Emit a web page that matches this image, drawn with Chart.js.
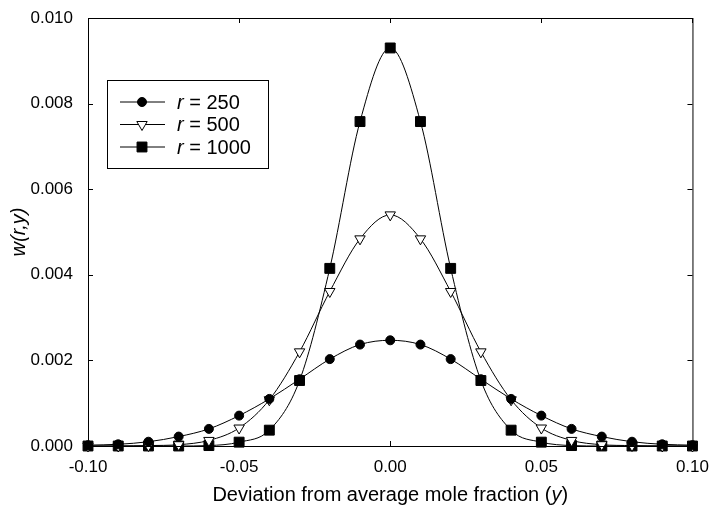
<!DOCTYPE html>
<html>
<head>
<meta charset="utf-8">
<script src="https://cdn.jsdelivr.net/npm/chart.js@4/dist/chart.umd.min.js"></script>
<style>
  html, body { margin: 0; padding: 0; background: #fff; }
  #wrap { width: 712px; height: 509px; }
</style>
</head>
<body>
<div id="wrap"><canvas id="chart" width="712" height="509"></canvas></div>
<script>
// deviation from average mole fraction
const xValues = [-0.10, -0.09, -0.08, -0.07, -0.06, -0.05, -0.04, -0.03, -0.02, -0.01, 0.00,
                 0.01, 0.02, 0.03, 0.04, 0.05, 0.06, 0.07, 0.08, 0.09, 0.10];
const r250 = [0.00002, 0.00004, 0.0001, 0.00022, 0.0004, 0.00071, 0.0011, 0.00156, 0.00203, 0.00237, 0.00247,
              0.00237, 0.00203, 0.00156, 0.0011, 0.00071, 0.0004, 0.00022, 0.0001, 0.00004, 0.00002];
const r500 = [0, 0, 0.00001, 0.00003, 0.00013, 0.00042, 0.00108, 0.0022, 0.00361, 0.00484, 0.0054,
              0.00484, 0.00361, 0.0022, 0.00108, 0.00042, 0.00013, 0.00003, 0.00001, 0, 0];
const r1000 = [0, 0, 0, 0, 0.00001, 0.00009, 0.00037, 0.00153, 0.00415, 0.00758, 0.0093,
               0.00758, 0.00415, 0.00153, 0.00037, 0.00009, 0.00001, 0, 0, 0, 0];
const seriesLabels = ['r = 250', 'r = 500', 'r = 1000'];
const xTickValues = [-0.10, -0.05, 0.00, 0.05, 0.10];
const xTickLabels = ['-0.10', '-0.05', '0.00', '0.05', '0.10'];
const yTickValues = [0, 0.002, 0.004, 0.006, 0.008, 0.010];
const yTickLabels = ['0.000', '0.002', '0.004', '0.006', '0.008', '0.010'];

const FONT = "'Liberation Sans', Arial, sans-serif";

function pts(arr) {
  return xValues.map((x, i) => ({ x: x, y: arr[i] }));
}

function series(label, arr, style, radius, fill, rot) {
  return {
    label: label,
    data: pts(arr),
    borderColor: '#000',
    borderWidth: 1,
    pointStyle: style,
    pointRadius: radius,
    pointRotation: rot || 0,
    pointBackgroundColor: fill,
    pointBorderColor: '#000',
    pointBorderWidth: 1,
    cubicInterpolationMode: 'monotone',
    clip: false
  };
}

// frame + inward ticks on all four sides
const frameTicks = {
  id: 'frameTicks',
  afterDatasetsDraw(chart) {
    const { ctx, chartArea: a, scales } = chart;
    const len = 5;
    ctx.save();
    ctx.strokeStyle = '#000';
    ctx.lineWidth = 1;
    ctx.strokeRect(a.left + 0.5, a.top + 0.5, a.right - a.left, a.bottom - a.top);
    ctx.beginPath();
    xTickValues.forEach(v => {
      const px = Math.round(scales.x.getPixelForValue(v)) + 0.5;
      ctx.moveTo(px, a.bottom); ctx.lineTo(px, a.bottom - len);
      ctx.moveTo(px, a.top); ctx.lineTo(px, a.top + len);
    });
    yTickValues.forEach(v => {
      const py = Math.round(scales.y.getPixelForValue(v)) + 0.5;
      ctx.moveTo(a.left, py); ctx.lineTo(a.left + len, py);
      ctx.moveTo(a.right, py); ctx.lineTo(a.right - len, py);
    });
    ctx.stroke();

    // x axis title with italic y
    const parts = [['Deviation from average mole fraction (', ''], ['y', 'italic '], [')', '']];
    let total = 0;
    parts.forEach(p => { ctx.font = p[1] + '20px ' + FONT; total += ctx.measureText(p[0]).width; });
    let x = (a.left + a.right) / 2 - total / 2;
    ctx.fillStyle = '#000';
    ctx.textBaseline = 'alphabetic';
    ctx.textAlign = 'left';
    parts.forEach(p => {
      ctx.font = p[1] + '20px ' + FONT;
      ctx.fillText(p[0], x, 501);
      x += ctx.measureText(p[0]).width;
    });
    ctx.restore();
  }
};

// boxed legend with line through marker
const boxLegend = {
  id: 'boxLegend',
  afterDraw(chart) {
    const ctx = chart.ctx;
    const bx = 107, by = 80, bw = 161, bh = 88;
    ctx.save();
    ctx.fillStyle = '#fff';
    ctx.fillRect(bx, by, bw, bh);
    ctx.strokeStyle = '#000';
    ctx.lineWidth = 1;
    ctx.strokeRect(bx + 0.5, by + 0.5, bw, bh);
    chart.data.datasets.forEach((ds, i) => {
      const y = by + 22 + i * 22.5;
      ctx.beginPath();
      ctx.moveTo(120, y); ctx.lineTo(165, y);
      ctx.strokeStyle = '#000';
      ctx.lineWidth = 1;
      ctx.stroke();
      ctx.fillStyle = ds.pointBackgroundColor;
      Chart.helpers.drawPoint(ctx, {
        pointStyle: ds.pointStyle, radius: ds.pointRadius,
        rotation: ds.pointRotation, borderWidth: 1
      }, 142, y);
      ctx.fillStyle = '#000';
      ctx.textBaseline = 'middle';
      ctx.textAlign = 'left';
      ctx.font = 'italic 20px ' + FONT;
      const first = ds.label.charAt(0);
      ctx.fillText(first, 177, y + 1);
      const w = ctx.measureText(first).width;
      ctx.font = '20px ' + FONT;
      ctx.fillText(ds.label.slice(1), 177 + w, y + 1);
    });
    ctx.restore();
  }
};

new Chart(document.getElementById('chart'), {
  type: 'line',
  data: {
    datasets: [
      series(seriesLabels[0], r250, 'circle', 4.5, '#000'),
      series(seriesLabels[1], r500, 'triangle', 6, '#fff', 180),
      series(seriesLabels[2], r1000, 'rect', 7, '#000')
    ]
  },
  options: {
    responsive: false,
    animation: false,
    layout: { padding: { top: 18, right: 15, left: 0, bottom: 0 } },
    plugins: { legend: { display: false }, tooltip: { enabled: false } },
    scales: {
      x: {
        type: 'linear',
        min: -0.10, max: 0.10,
        afterFit: s => { s.height = 63; },
        afterBuildTicks: s => { s.ticks = xTickValues.map(v => ({ value: v })); },
        grid: { display: false },
        border: { display: false },
        ticks: {
          padding: 3,
          color: '#000',
          font: { family: FONT, size: 17 },
          maxRotation: 0,
          callback: v => xTickLabels[xTickValues.findIndex(t => Math.abs(t - v) < 1e-9)]
        },
        title: { display: false }
      },
      y: {
        min: 0, max: 0.010,
        afterFit: s => { s.width = 88; },
        afterBuildTicks: s => { s.ticks = yTickValues.map(v => ({ value: v })); },
        grid: { display: false },
        border: { display: false },
        ticks: {
          padding: 7,
          color: '#000',
          font: { family: FONT, size: 17 },
          callback: v => yTickLabels[yTickValues.findIndex(t => Math.abs(t - v) < 1e-9)]
        },
        title: {
          display: true,
          text: 'w(r,y)',
          color: '#000',
          font: { family: FONT, size: 20, style: 'italic' },
          padding: { top: 7, bottom: 0 }
        }
      }
    }
  },
  plugins: [frameTicks, boxLegend]
});
</script>
</body>
</html>
